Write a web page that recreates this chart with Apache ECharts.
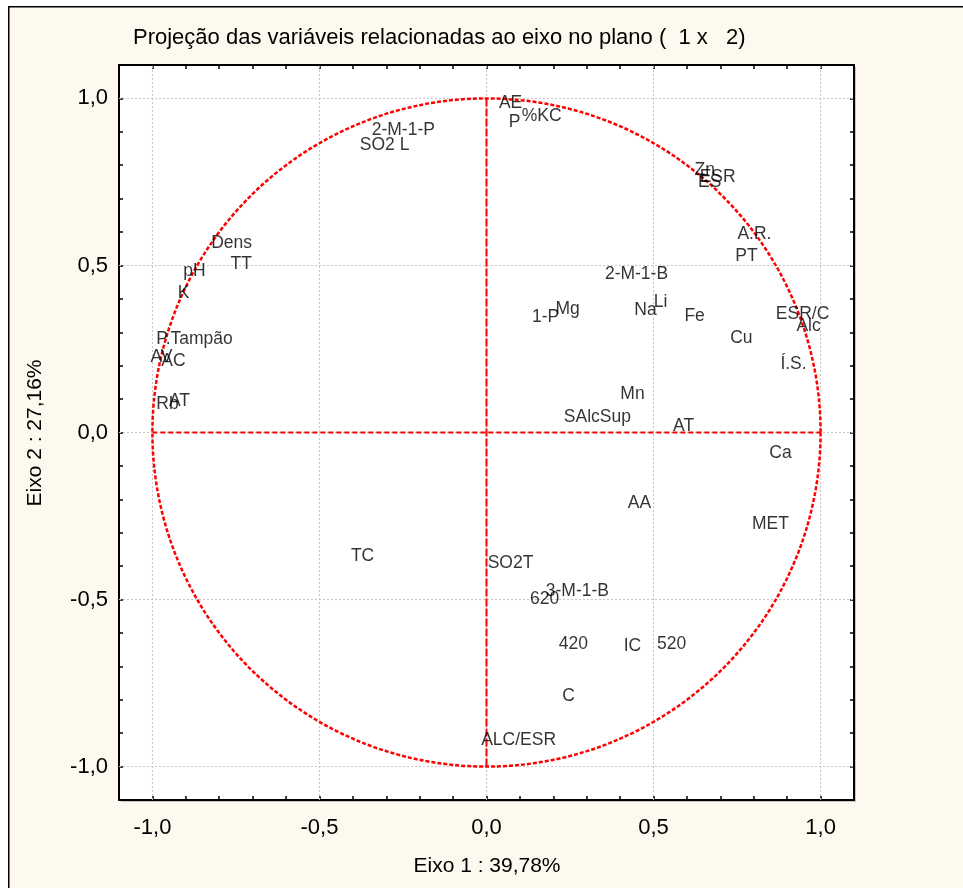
<!DOCTYPE html>
<html>
<head>
<meta charset="utf-8">
<script src="https://cdn.jsdelivr.net/npm/echarts@6/dist/echarts.min.js"></script>
<style>
html,body{margin:0;padding:0;background:#ffffff;}
#chart{width:963px;height:888px;}
</style>
</head>
<body>
<div id="chart"></div>
<script>
// ---- data (variable projections onto factor plane 1 x 2) ----
const varNames = ["AE","P","%KC","2-M-1-P","SO2 L","Zn","ESR","ES","Dens","TT","pH","K","P.Tampão","AV","AC","Rb","AT",
  "2-M-1-B","1-P","Mg","Na","Li","Fe","A.R.","PT","ESR/C","Alc","Cu","Í.S.","Mn","SAlcSup","AT","Ca","AA","MET",
  "TC","SO2T","3-M-1-B","620","420","IC","520","C","ALC/ESR"];
const axis1 = [0.072,0.084,0.165,-0.249,-0.305,0.653,0.692,0.668,-0.763,-0.734,-0.874,-0.907,-0.874,-0.973,-0.937,-0.955,-0.919,
  0.449,0.177,0.243,0.476,0.521,0.623,0.802,0.778,0.946,0.964,0.763,0.919,0.437,0.332,0.590,0.880,0.458,0.850,
  -0.371,0.072,0.272,0.174,0.260,0.437,0.554,0.246,0.096];
const axis2 = [0.991,0.934,0.952,0.910,0.865,0.790,0.769,0.754,0.572,0.509,0.488,0.422,0.284,0.231,0.219,0.090,0.099,
  0.479,0.350,0.374,0.371,0.395,0.353,0.599,0.533,0.359,0.323,0.287,0.210,0.120,0.051,0.024,-0.057,-0.207,-0.269,
  -0.365,-0.386,-0.470,-0.494,-0.629,-0.635,-0.629,-0.784,-0.916];
const tickLabels = [-1.0,-0.5,0.0,0.5,1.0];
const unitCircle = [[0,0,1]]; // centre x, centre y, radius
const crossLines = [[-1,0,1,0],[0,-1,0,1]];
const titleText = "Projeção das variáveis relacionadas ao eixo no plano (  1 x   2)";
const xName = "Eixo 1 : 39,78%";
const yName = "Eixo 2 : 27,16%";

const FONT = "'Liberation Sans', Arial, Helvetica, sans-serif";
const fmt = v => {
  const r = Math.round(v*10)/10;
  if (Math.abs(Math.round(r*2) - r*2) > 1e-6) return '';
  return r.toFixed(1).replace('.', ',').replace('-0,0','0,0');
};

const chart = echarts.init(document.getElementById('chart'), null, {renderer:'canvas'});

const axisCommon = {
  type:'value', min:-1.1, max:1.1, interval:0.1,
  axisLine:{show:false, onZero:false},
  axisTick:{show:true, inside:true, length:4, lineStyle:{color:'#000', width:1.5}},
  splitLine:{show:false}
};

const pts = varNames.map((n,i)=>[axis1[i], axis2[i], n]);

const option = {
  backgroundColor:'#ffffff',
  animation:false,
  graphic:[
    {type:'rect', left:8, top:6, z:-10, shape:{width:1000, height:1000},
     style:{fill:'#FEF9EE', stroke:'#000', lineWidth:1.5}},
    {type:'rect', x:121, y:67, z:-5, shape:{width:735, height:735},
     style:{fill:'#c8c8c8'}},
    {type:'text', left:133, top:27, z:10, style:{text:titleText, font:'22px '+FONT, fill:'#000'}},
    {type:'text', x:487, y:866, z:10, style:{text:xName, font:'21px '+FONT, fill:'#000', align:'center', verticalAlign:'middle'}},
    {type:'text', x:35, y:433, rotation:Math.PI/2, z:10, style:{text:yName, font:'21px '+FONT, fill:'#000', align:'center', verticalAlign:'middle'}}
  ],
  grid:{left:119, right:109, top:65, bottom:88, show:true, backgroundColor:'#ffffff', borderColor:'#000', borderWidth:2, containLabel:false},
  xAxis:[
    Object.assign({}, axisCommon, {position:'bottom',
      axisLabel:{show:true, formatter:fmt, fontSize:22, fontFamily:FONT, color:'#000', margin:17}}),
    Object.assign({}, axisCommon, {position:'top', axisLabel:{show:false}})
  ],
  yAxis:[
    Object.assign({}, axisCommon, {position:'left',
      axisLabel:{show:true, formatter:fmt, fontSize:22, fontFamily:FONT, color:'#000', margin:11}}),
    Object.assign({}, axisCommon, {position:'right', axisLabel:{show:false}})
  ],
  series:[
    { // grid lines at labelled ticks
      type:'custom', silent:true, z:1,
      data: tickLabels.map(v=>[v]),
      renderItem:(params, api)=>{
        const v = api.value(0);
        const a = api.coord([v,-1.1]), b = api.coord([v,1.1]);
        const c = api.coord([-1.1,v]), d = api.coord([1.1,v]);
        const st = {stroke:'#c4c4c4', lineWidth:1, lineDash:[2,2]};
        return {type:'group', children:[
          {type:'line', shape:{x1:a[0],y1:a[1],x2:b[0],y2:b[1]}, style:st},
          {type:'line', shape:{x1:c[0],y1:c[1],x2:d[0],y2:d[1]}, style:st}
        ]};
      }
    },
    { // cross lines
      type:'custom', silent:true, z:2,
      data: crossLines,
      renderItem:(params, api)=>{
        const p1 = api.coord([api.value(0), api.value(1)]);
        const p2 = api.coord([api.value(2), api.value(3)]);
        const vertical = Math.abs(p1[0]-p2[0]) < 1;
        return {type:'line', shape:{x1:p1[0],y1:p1[1],x2:p2[0],y2:p2[1]},
          style:{stroke:'#ff0000', lineWidth:2, lineDash: vertical ? [8,2] : [5,3]}};
      }
    },
    { // unit circle
      type:'custom', silent:true, z:3,
      data: unitCircle,
      renderItem:(params, api)=>{
        const c = api.coord([api.value(0), api.value(1)]);
        const r = api.size([api.value(2), 0])[0];
        return {type:'circle', shape:{cx:c[0], cy:c[1], r:r},
          style:{fill:null, stroke:'#ff0000', lineWidth:2.5, lineDash:[4,2]}};
      }
    },
    { // variable labels
      type:'scatter', z:5, silent:true,
      data: pts,
      symbolSize:2,
      itemStyle:{color:'rgba(0,0,0,0)'},
      label:{show:true, position:'inside', offset:[0,2], formatter:p=>p.data[2],
        fontSize:17.5, fontFamily:FONT, color:'#000', textBorderWidth:0}
    }
  ]
};
chart.setOption(option);
</script>
</body>
</html>
